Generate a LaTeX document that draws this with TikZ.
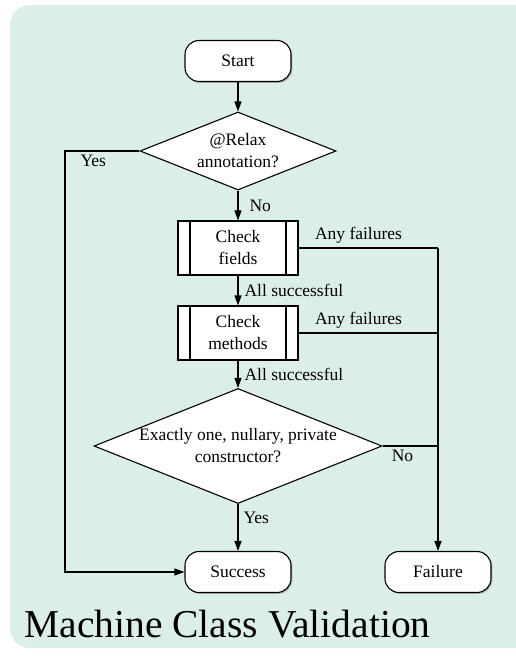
\documentclass[tikz,border=0pt]{standalone}
\IfFileExists{pplr8t.tfm}{%
  \usepackage[T1]{fontenc}%
  \renewcommand{\rmdefault}{ppl}%
}{%
  \usepackage{fontspec}%
  \setmainfont{Liberation Serif}%
}
\usetikzlibrary{shapes.geometric,arrows.meta,shadows}
\definecolor{panel}{RGB}{220,238,232}
\begin{document}
\begin{tikzpicture}[x=1pt,y=-1pt,
  font=\fontsize{17.5}{22}\selectfont,
  line width=1.1pt,
  softshadow/.style={drop shadow={shadow xshift=1.4pt,shadow yshift=-1.4pt,opacity=0.35,fill=black!70}},
  terminal/.style={draw,fill=white,rounded corners=14pt,minimum width=106pt,minimum height=41pt,inner sep=0pt,softshadow},
  decision/.style={diamond,draw,fill=white,inner sep=0pt},
  subproc/.style={draw,fill=white,minimum width=120pt,minimum height=54pt,align=center,inner sep=0pt,softshadow,
    path picture={
      \draw ([xshift=12pt]path picture bounding box.north west) -- ([xshift=12pt]path picture bounding box.south west);
      \draw ([xshift=-12pt]path picture bounding box.north east) -- ([xshift=-12pt]path picture bounding box.south east);
    }},
  flow/.style={-{Triangle[length=10pt,width=7pt]}},
  lbl/.style={inner sep=2pt}
]
\useasboundingbox (0,0) rectangle (516,658);
% panel behind the chart
\fill[panel,rounded corners=20pt] (10,5) rectangle (545,648);

% nodes
\node[terminal] (start) at (238,61) {Start};
\node[decision,minimum width=196pt,minimum height=78pt,
      label={[align=center,lbl]center:@Relax\\annotation?}] (relax) at (238,151) {};
\node[subproc] (fields) at (238,248) {Check\\fields};
\node[subproc] (methods) at (238,333) {Check\\methods};
\node[decision,minimum width=288pt,minimum height=115pt,
      label={[align=center,lbl]center:Exactly one, nullary, private\\constructor?}] (ctor) at (238,446) {};
\node[terminal] (success) at (238,572) {Success};
\node[terminal] (failure) at (438,572) {Failure};

\coordinate (leftrail) at (65,151);
\coordinate (rightrail) at (438,248);

% connectors
\draw[flow] (start) -- (relax);
\draw[flow] (relax.south) -- node[lbl,right=9pt]{No} (fields.north);
\draw[flow] (fields.south) -- node[lbl,right=4pt]{All successful} (methods.north);
\draw[flow] (methods.south) -- node[lbl,right=4pt]{All successful} (ctor.north);
\draw[flow] (ctor.south) -- node[lbl,pos=0.3,right=3pt]{Yes} (success.north);
\draw[flow] (relax.west) -- node[lbl,pos=0.62,below=1pt]{Yes} (leftrail) |- (success.west);
\draw (fields.east) -- node[lbl,pos=0.43,above=2pt]{Any failures} (rightrail);
\draw (methods.east) -- node[lbl,pos=0.43,above=2pt]{Any failures} (methods.east -| rightrail);
\draw (ctor.east) -- node[lbl,pos=0.36,below=1pt]{No} (ctor.east -| rightrail);
\draw[flow] (rightrail) -- (failure.north);

% caption
\node[anchor=base west,inner sep=0pt,font=\fontsize{39.5}{44}\selectfont] (title) at (24,637) {Machine Class Validation};
\end{tikzpicture}
\end{document}
